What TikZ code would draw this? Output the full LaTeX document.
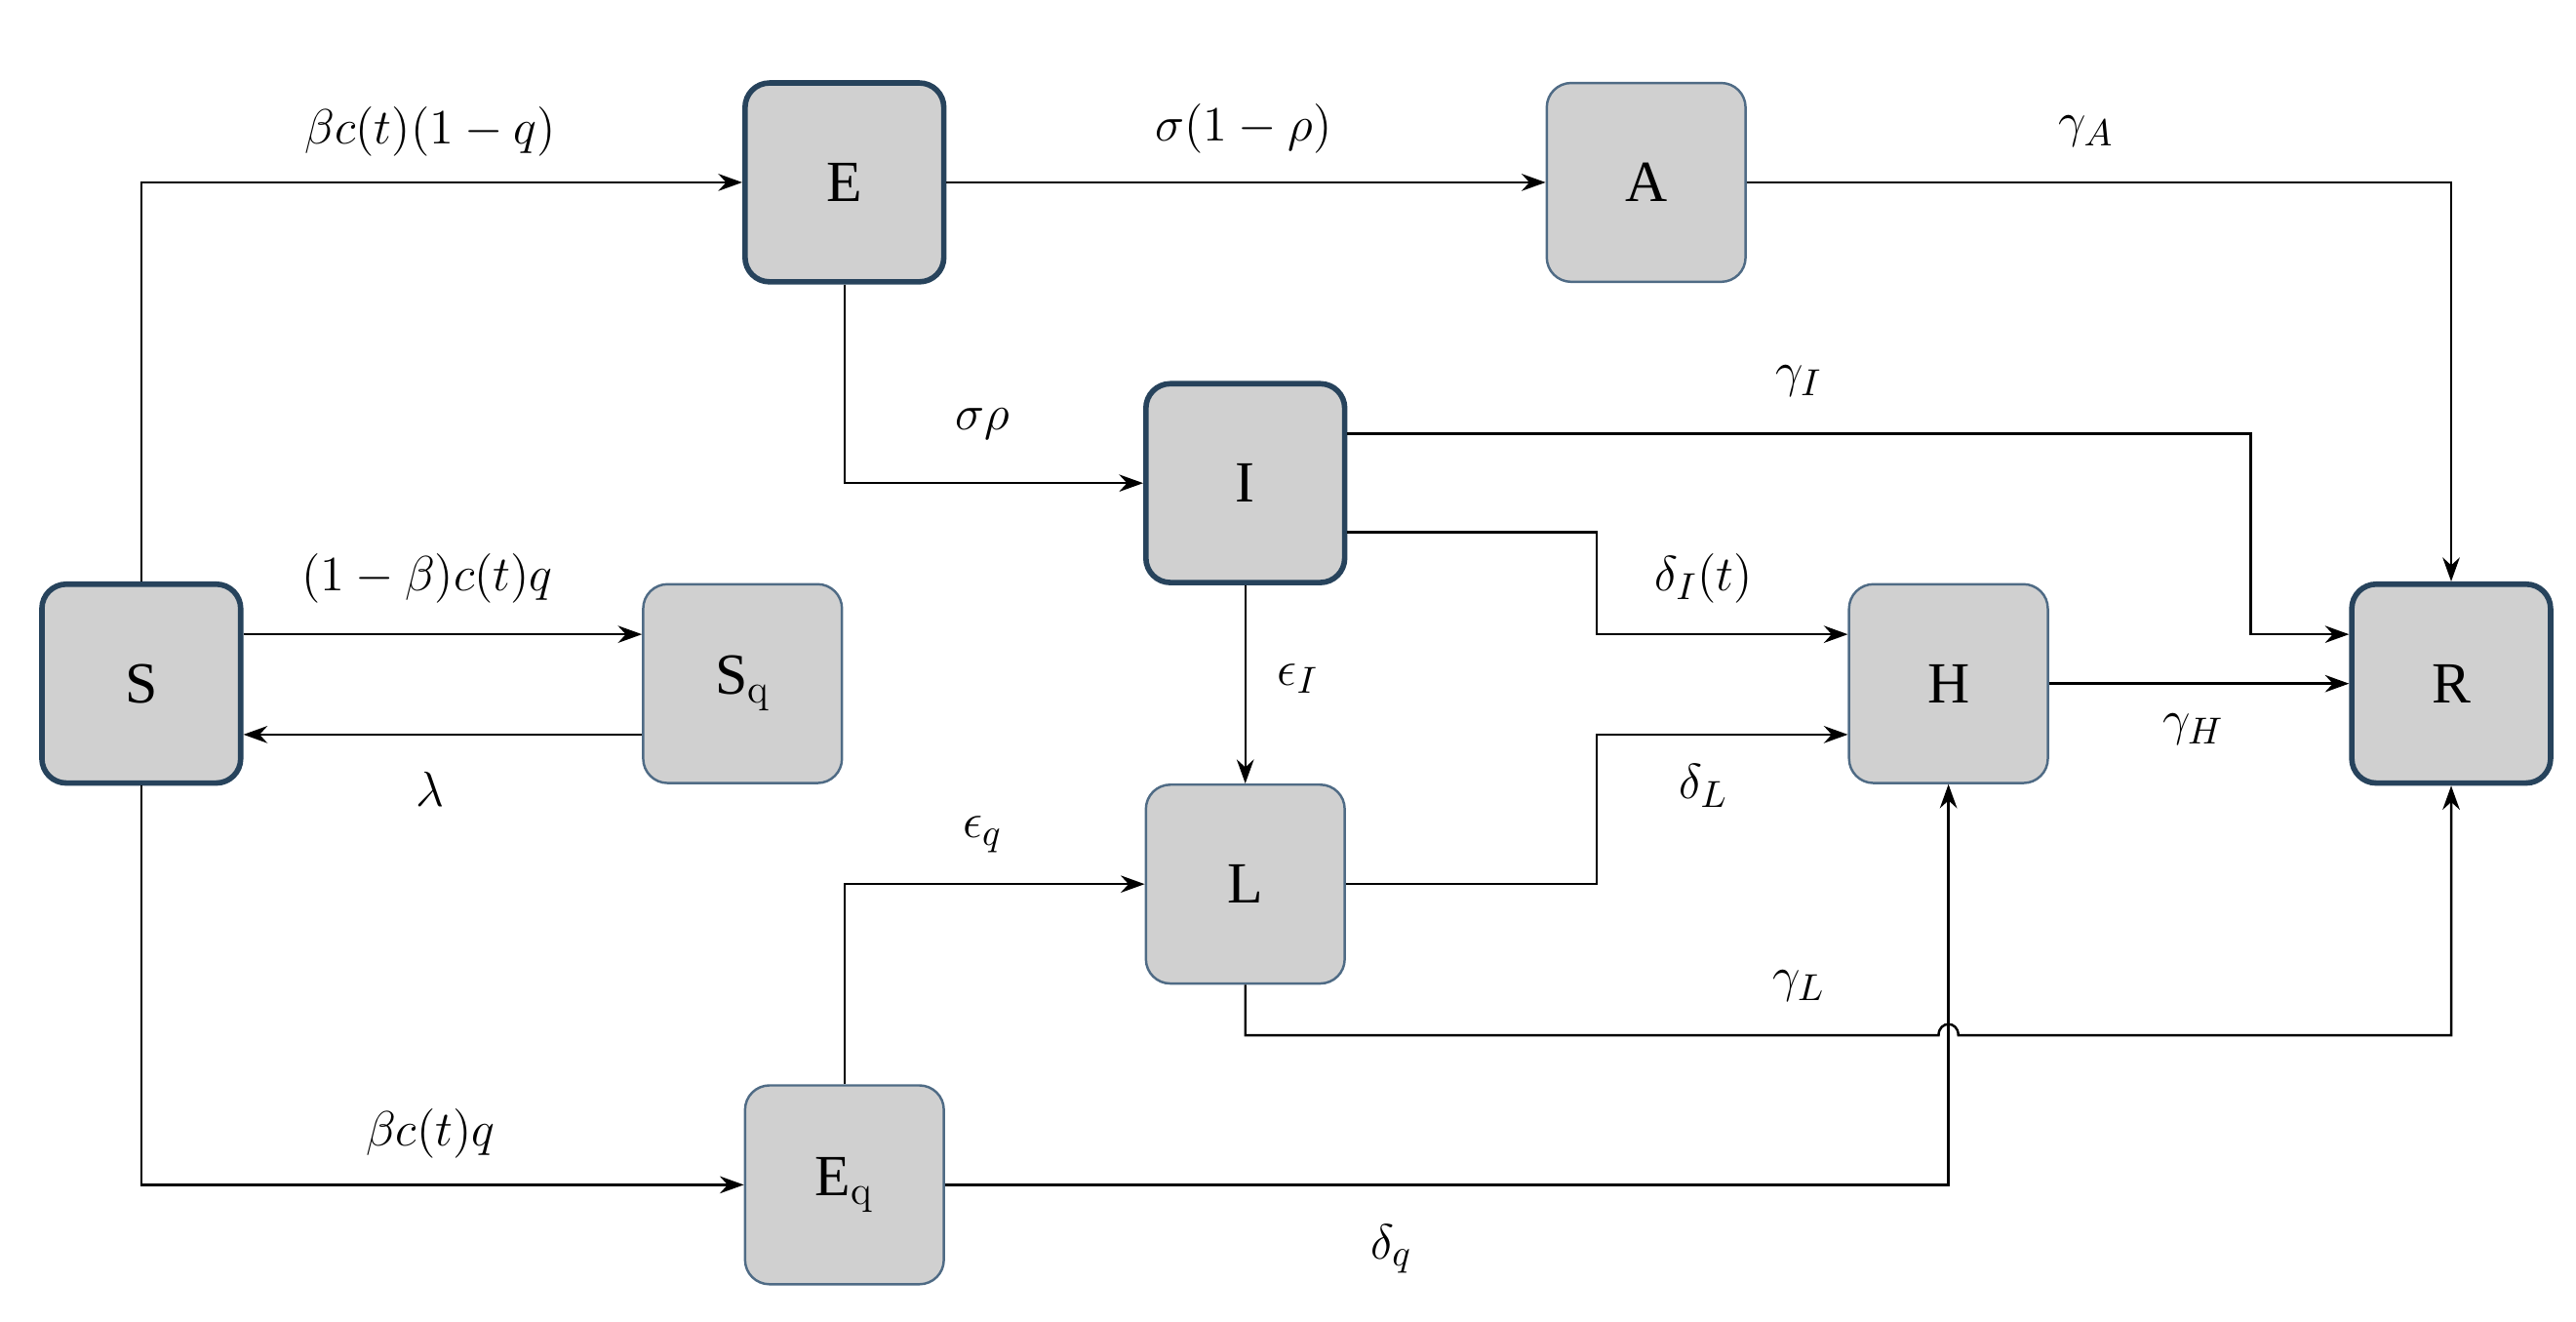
\documentclass[tikz,border=0pt]{standalone}
\usepackage{fontspec}
\newfontfamily\boxfont{Liberation Serif}
\usetikzlibrary{arrows.meta}
\definecolor{boxfill}{HTML}{D0D0D0}
\definecolor{thickb}{HTML}{27435C}
\definecolor{thinb}{HTML}{4F6B85}
\begin{document}
\begin{tikzpicture}[x=0.01684cm,y=-0.01684cm,
  box/.style={draw=thinb,line width=0.7pt,fill=boxfill,rounded corners=0.25cm,minimum width=121*0.01684cm,minimum height=121*0.01684cm,inner sep=0pt,font=\boxfont\fontsize{17}{20}\selectfont},
  main/.style={box,draw=thickb,line width=1.6pt},
  arr/.style={-{Stealth[length=7pt,width=5pt]},line width=0.7pt},
  lab/.style={font=\fontsize{15}{18}\selectfont}]
\useasboundingbox (0,0) rectangle (1568,804);
\node[main] (S) at (86,416) {S};
\node[main] (E) at (514,111) {E};
\node[box] (A) at (1002,111) {A};
\node[main] (I) at (758,294) {I};
\node[box] (Sq) at (452,416) {S$_{\mathrm{q}}$};
\node[box] (H) at (1186,416) {H};
\node[main] (R) at (1492,416) {R};
\node[box] (L) at (758,538) {L};
\node[box] (Eq) at (514,721) {E$_{\mathrm{q}}$};
\coordinate (Htop) at (1186,386);
\coordinate (Hbot) at (1186,447);
\coordinate (Rtop) at (1492,386);
\coordinate (Rbot) at (1492,447);

\draw[arr] (S.north) |- (E.west);
\draw[arr] (E.east) -- (A.west);
\draw[arr] (A.east) -| (R.north);
\draw[arr] (E.south) |- (I.west);
\draw[arr] (I.east |- 0,264) -| (1370,386) -- (R.west |- Rtop);
\draw[arr] (I.east |- 0,324) -| (972,386) -- (H.west |- Htop);
\draw[arr] (I.south) -- (L.north);
\draw[arr] (S.east |- 0,386) -- (Sq.west |- 0,386);
\draw[arr] (Sq.west |- 0,447) -- (S.east |- 0,447);
\draw[arr] (H.east) -- (R.west);
\draw[arr] (L.east) -| (972,447) -- (H.west |- Hbot);
\draw[arr] (Eq.north) |- (L.west);
\draw[arr] (L.south) |- (1180,630) .. controls (1180,621) and (1192,621) .. (1192,630) -| (R.south);
\draw[arr] (S.south) |- (Eq.west);
\draw[arr] (Eq.east) -| (H.south);

\node[lab] (l1) at (262,80) {$\beta c(t)(1-q)$};
\node[lab] (l2) at (757,78) {$\sigma(1-\rho)$};
\node[lab] (l3) at (1270,80) {$\gamma_A$};
\node[lab] (l4) at (598,258) {$\sigma\rho$};
\node[lab] (l5) at (1095,232) {$\gamma_I$};
\node[lab] (l6) at (1037,352) {$\delta_I(t)$};
\node[lab] (l7) at (790,413) {$\epsilon_I$};
\node[lab] (l8) at (260,352) {$(1-\beta)c(t)q$};
\node[lab] (l9) at (262,480) {$\lambda$};
\node[lab] (l10) at (1335,444) {$\gamma_H$};
\node[lab] (l11) at (1037,478) {$\delta_L$};
\node[lab] (l12) at (598,508) {$\epsilon_q$};
\node[lab] (l13) at (1095,600) {$\gamma_L$};
\node[lab] (l14) at (262,690) {$\beta c(t)q$};
\node[lab] (l15) at (847,760) {$\delta_q$};
\end{tikzpicture}
\end{document}
